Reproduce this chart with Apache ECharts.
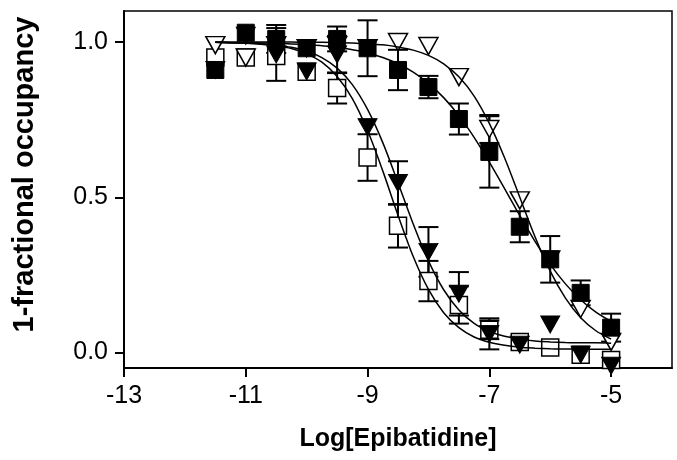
<!DOCTYPE html>
<html>
<head>
<meta charset="utf-8">
<script src="https://cdn.jsdelivr.net/npm/echarts@6/dist/echarts.min.js"></script>
<style>
  html, body { margin: 0; padding: 0; background: #fff; }
  #chart { width: 677px; height: 460px; }
</style>
</head>
<body>
<div id="chart"></div>
<script>
// log[epibatidine] doses
var doseX = [-11.5, -11, -10.5, -10, -9.5, -9, -8.5, -8, -7.5, -7, -6.5, -6, -5.5, -5];

// measured points (mean) and error (0 = hidden inside symbol)
var filledSq    = [0.91, 1.03, 1.01, 0.98, 1.01, 0.98, 0.91, 0.855, 0.752, 0.646, 0.405, 0.30, 0.192, 0.08];
var filledSqErr = [0, 0, 0.045, 0, 0.04, 0.09, 0.065, 0.036, 0.05, 0.115, 0.05, 0.075, 0.04, 0.045];
var openTri     = [0.99, 0.95, 0.99, 0.98, 0.99, 0.98, 1.0, 0.987, 0.887, 0.72, 0.49, 0.30, 0.14, 0.034];
var openTriErr  = [0, 0, 0, 0, 0, 0, 0, 0, 0, 0.045, 0, 0, 0, 0];
var filledTri   = [0.91, 1.02, 0.96, 0.905, 0.96, 0.726, 0.546, 0.324, 0.189, 0.06, 0.025, 0.09, -0.007, -0.043];
var filledTriErr = [0, 0, 0.085, 0, 0.06, 0, 0.07, 0.08, 0.07, 0.05, 0, 0, 0, 0];
var openSq      = [0.95, 0.95, 0.955, 0.904, 0.852, 0.628, 0.408, 0.23, 0.153, 0.073, 0.034, 0.016, -0.007, -0.024];
var openSqErr   = [0, 0, 0, 0, 0.05, 0.075, 0.07, 0.065, 0.06, 0.03, 0, 0, 0, 0];

// fitted curves (steps of 0.25)
var curveX = [-11.5, -11.25, -11, -10.75, -10.5, -10.25, -10, -9.75, -9.5, -9.25, -9, -8.75, -8.5, -8.25,
              -8, -7.75, -7.5, -7.25, -7, -6.75, -6.5, -6.25, -6, -5.75, -5.5, -5.25, -5];
var fitFilledSq  = [0.999, 0.998, 0.998, 0.997, 0.996, 0.994, 0.991, 0.988, 0.982, 0.975, 0.965, 0.950, 0.930, 0.903,
                    0.867, 0.821, 0.763, 0.693, 0.613, 0.528, 0.441, 0.358, 0.284, 0.221, 0.170, 0.130, 0.100];
var fitOpenTri   = [1.0, 1.0, 1.0, 1.0, 1.0, 1.0, 0.999, 0.999, 0.998, 0.997, 0.994, 0.991, 0.984, 0.974,
                    0.957, 0.930, 0.888, 0.826, 0.738, 0.627, 0.5, 0.373, 0.262, 0.175, 0.112, 0.070, 0.043];
var fitFilledTri = [0.999, 0.998, 0.997, 0.994, 0.990, 0.983, 0.971, 0.950, 0.916, 0.863, 0.783, 0.676, 0.547, 0.414,
                    0.295, 0.202, 0.137, 0.094, 0.068, 0.052, 0.043, 0.037, 0.034, 0.032, 0.031, 0.031, 0.030];
var fitOpenSq    = [0.999, 0.998, 0.996, 0.993, 0.988, 0.979, 0.962, 0.935, 0.889, 0.818, 0.715, 0.585, 0.442, 0.309,
                    0.203, 0.128, 0.080, 0.050, 0.033, 0.023, 0.017, 0.014, 0.012, 0.011, 0.011, 0.010, 0.010];

var xTicks = [-13, -11, -9, -7, -5];
var yTicks = [0, 0.5, 1];

var FONT = "'Liberation Sans', Arial, sans-serif";

function pairs(xs, ys) {
    return xs.map(function(x, i) { return [x, ys[i]]; });
}
function triples(xs, ys, es) {
    return xs.map(function(x, i) { return [x, ys[i], es[i]]; });
}

function errRender(params, api) {
    var x = api.value(0), y = api.value(1), e = api.value(2);
    if (!e) return;
    var top = api.coord([x, y + e]);
    var bot = api.coord([x, y - e]);
    var hw = 10;
    var st = { stroke: '#000', lineWidth: 2 };
    return {
        type: 'group',
        children: [
            { type: 'line', shape: { x1: top[0], y1: top[1], x2: bot[0], y2: bot[1] }, style: st },
            { type: 'line', shape: { x1: top[0] - hw, y1: top[1], x2: top[0] + hw, y2: top[1] }, style: st },
            { type: 'line', shape: { x1: bot[0] - hw, y1: bot[1], x2: bot[0] + hw, y2: bot[1] }, style: st }
        ]
    };
}

function errSeries(ys, es) {
    return {
        type: 'custom',
        renderItem: errRender,
        data: triples(doseX, ys, es),
        encode: { x: 0, y: 1 },
        clip: false,
        z: 1,
        silent: true
    };
}

function markSeries(ys, symbol, size, filled, z) {
    return {
        type: 'scatter',
        data: pairs(doseX, ys),
        symbol: symbol,
        symbolSize: size,
        symbolRotate: symbol === 'triangle' ? 180 : 0,
        clip: false,
        z: z,
        silent: true,
        itemStyle: {
            color: filled ? '#000' : '#fff',
            borderColor: '#000',
            borderWidth: filled ? 1 : 1.5,
            opacity: 1
        }
    };
}

function curveSeries(ys) {
    return {
        type: 'line',
        data: pairs(curveX, ys),
        showSymbol: false,
        smooth: 0.3,
        z: 6,
        silent: true,
        lineStyle: { color: '#000', width: 1.5 }
    };
}

var chart = echarts.init(document.getElementById('chart'));
chart.setOption({
    animation: false,
    backgroundColor: '#fff',
    grid: {
        left: 124, right: 5, top: 11, bottom: 92,
        containLabel: false,
        outerBoundsMode: 'none',
        show: true,
        borderColor: '#000',
        borderWidth: 1.5,
        backgroundColor: 'transparent'
    },
    xAxis: {
        type: 'value',
        min: -13, max: -4,
        name: 'Log[Epibatidine]',
        nameLocation: 'middle',
        nameGap: 59,
        nameTextStyle: { fontFamily: FONT, fontSize: 25, fontWeight: 'bold', color: '#000' },
        axisLine: { onZero: false, lineStyle: { color: '#000', width: 2 } },
        axisTick: { customValues: xTicks, length: 9, lineStyle: { color: '#000', width: 2 } },
        axisLabel: { customValues: xTicks, fontFamily: FONT, fontSize: 25, color: '#000', margin: 16 },
        splitLine: { show: false }
    },
    yAxis: {
        type: 'value',
        min: -0.05, max: 1.1,
        name: '1-fractional occupancy',
        nameLocation: 'middle',
        nameGap: 85,
        nameTextStyle: { fontFamily: FONT, fontSize: 29, fontWeight: 'bold', color: '#000', padding: [0, 0, 0, 30] },
        axisLine: { onZero: false, lineStyle: { color: '#000', width: 2 } },
        axisTick: { customValues: yTicks, length: 9, lineStyle: { color: '#000', width: 2 } },
        axisLabel: {
            customValues: yTicks, fontFamily: FONT, fontSize: 25, color: '#000', margin: 16,
            formatter: function(v) { return v.toFixed(1); }
        },
        splitLine: { show: false }
    },
    series: [
        errSeries(openSq, openSqErr),
        errSeries(openTri, openTriErr),
        errSeries(filledTri, filledTriErr),
        errSeries(filledSq, filledSqErr),
        markSeries(openSq, 'rect', 17, false, 2),
        markSeries(openTri, 'triangle', [19, 17], false, 3),
        markSeries(filledTri, 'triangle', [19, 17], true, 4),
        markSeries(filledSq, 'rect', 17, true, 5),
        curveSeries(fitFilledSq),
        curveSeries(fitOpenTri),
        curveSeries(fitFilledTri),
        curveSeries(fitOpenSq)
    ]
});
</script>
</body>
</html>
